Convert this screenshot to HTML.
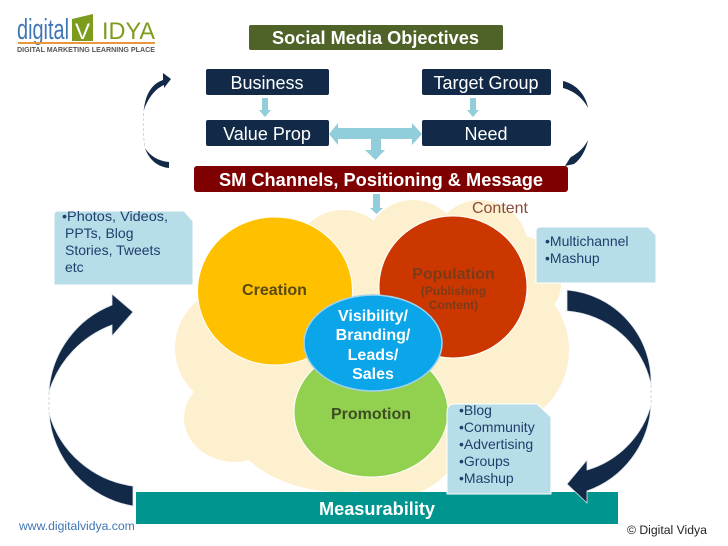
<!DOCTYPE html>
<html><head><meta charset="utf-8"><style>
html,body{margin:0;padding:0;background:#fff}
svg{display:block;font-family:"Liberation Sans",sans-serif}
</style></head><body>
<svg width="728" height="546" viewBox="0 0 728 546" xmlns="http://www.w3.org/2000/svg">
<rect width="728" height="546" fill="#fff"/>
<!-- logo -->
<text x="17" y="39" font-size="29" fill="#3f76b5" textLength="52" lengthAdjust="spacingAndGlyphs">digital</text>
<path d="M72 19L93 14V41H72Z" fill="#7d9c1e"/>
<text x="75" y="39" font-size="22" fill="#fff" textLength="15" lengthAdjust="spacingAndGlyphs">V</text>
<text x="102" y="39" font-size="24" fill="#7d9c1e" textLength="53" lengthAdjust="spacingAndGlyphs">IDYA</text>
<rect x="18" y="42" width="137" height="2" fill="#e8973a"/>
<text x="17" y="52" font-size="7" font-weight="bold" fill="#555" textLength="138" lengthAdjust="spacingAndGlyphs">DIGITAL MARKETING LEARNING PLACE</text>
<!-- title -->
<rect x="249" y="25" width="254" height="25" rx="2" fill="#4f6228"/>
<text x="272" y="44" font-size="18" font-weight="bold" fill="#fff" textLength="207" lengthAdjust="spacingAndGlyphs">Social Media Objectives</text>
<!-- navy boxes -->
<g fill="#122a47">
<rect x="206" y="69" width="123" height="26" rx="2"/>
<rect x="422" y="69" width="129" height="26" rx="2"/>
<rect x="206" y="120" width="123" height="26" rx="2"/>
<rect x="422" y="120" width="129" height="26" rx="2"/>
</g>
<g fill="#fff" font-size="18" text-anchor="middle">
<text x="267" y="89">Business</text>
<text x="486" y="89">Target Group</text>
<text x="267" y="140">Value Prop</text>
<text x="486" y="140">Need</text>
</g>
<!-- light arrows -->
<g fill="#92cddc">
<path d="M262 98H268V110H271L265 117L259 110H262Z"/>
<path d="M470 98H476V110H479L473 117L467 110H470Z"/>
<path d="M329 134L338 123V128H412V123L422 134L412 145V139H381V150H385L375.500 160L365 150H371V139H338V145Z"/>
</g>
<!-- red bar -->
<rect x="194" y="166" width="374" height="26" rx="3" fill="#7f0000"/>
<text x="219" y="186" font-size="18" font-weight="bold" fill="#fff" textLength="324" lengthAdjust="spacingAndGlyphs">SM Channels, Positioning &amp; Message</text>
<!-- cloud -->
<g fill="#fdf0cf">
<circle cx="343" cy="260" r="50"/>
<circle cx="413" cy="248" r="48"/>
<circle cx="480" cy="248" r="48"/>
<ellipse cx="510" cy="275" rx="51" ry="41"/>
<ellipse cx="520" cy="285" rx="41" ry="35"/>
<circle cx="236" cy="348" r="61"/>
<ellipse cx="235" cy="418" rx="51" ry="44"/>
<ellipse cx="340" cy="410" rx="115" ry="82"/>
<circle cx="490" cy="350" r="79"/>
<circle cx="390" cy="420" r="78"/>
<circle cx="370" cy="340" r="118"/>
<rect x="300" y="270" width="200" height="100"/>
</g>
<path d="M373 194H380V208H383L376.500 214L370 208H373Z" fill="#92cddc"/>
<text x="472" y="213" font-size="16" fill="#8c4a3c" textLength="56" lengthAdjust="spacingAndGlyphs">Content</text>
<!-- circles -->
<ellipse cx="275" cy="291" rx="77.500" ry="74" fill="#ffc000" stroke="#fff"/>
<ellipse cx="453" cy="287" rx="74" ry="71" fill="#cc3700" stroke="#fff"/>
<ellipse cx="371" cy="412" rx="77" ry="65" fill="#92d050" stroke="#fff"/>
<g font-weight="bold" text-anchor="middle">
<text x="274.500" y="295" font-size="16" fill="#5a4a10">Creation</text>
<text x="453.500" y="279" font-size="16" fill="#7b3b1a">Population</text>
<text x="453.500" y="295" font-size="12" fill="#7b3b1a">(Publishing</text>
<text x="453.500" y="309" font-size="12" fill="#7b3b1a">Content)</text>
<text x="371" y="419" font-size="16" fill="#3d4f22">Promotion</text>
</g>
<ellipse cx="373" cy="343" rx="69" ry="48" fill="#0ba5ea" stroke="#9fd3ee" stroke-width="1.500"/>
<g font-size="16" font-weight="bold" fill="#fff" text-anchor="middle">
<text x="373" y="321">Visibility/</text>
<text x="373" y="340">Branding/</text>
<text x="373" y="360">Leads/</text>
<text x="373" y="379">Sales</text>
</g>
<!-- teal bar -->
<rect x="136" y="492" width="482" height="32" fill="#00968f"/>
<text x="319" y="515" font-size="18" font-weight="bold" fill="#fff" textLength="116" lengthAdjust="spacingAndGlyphs">Measurability</text>
<!-- callouts -->
<g fill="#b7dde8" stroke="#fff" stroke-width="1">
<path d="M54 215Q54 211 58 211H184L193 221V285H54Z"/>
<path d="M536 231Q536 227 540 227H648L656 235V283H536Z"/>
<path d="M447 412Q447 404 455 404H537L551 417V494H447Z"/>
</g>
<g font-size="14" fill="#1f3f6d">
<text x="62" y="221" textLength="106" lengthAdjust="spacingAndGlyphs">•Photos, Videos,</text>
<text x="65" y="238">PPTs, Blog</text>
<text x="65" y="255">Stories, Tweets</text>
<text x="65" y="272">etc</text>
<text x="545" y="246">•Multichannel</text>
<text x="545" y="263">•Mashup</text>
<text x="459" y="415">•Blog</text>
<text x="459" y="432">•Community</text>
<text x="459" y="449">•Advertising</text>
<text x="459" y="466">•Groups</text>
<text x="459" y="483">•Mashup</text>
</g>
<!-- dashed outlines between arrow halves -->
<g fill="none" stroke="#bbb" stroke-width="0.600" stroke-dasharray="3 2">
<path d="M49 392V413"/>
<path d="M651 385V405"/>
<path d="M144 108Q142 128 145 148"/>
</g>
<!-- big arrows -->
<g fill="#122a47" stroke="#dfe4ea" stroke-width="0.800">
<path d="M49 390A100 100 0 0 1 112 305V294L133 312L112 336V325A104 104 0 0 0 49 392Z"/>
<path d="M49 413A101 101 0 0 0 133 506V486A101 101 0 0 1 49 413Z"/>
<path d="M567 290A92 92 0 0 1 651 385A93 93 0 0 0 567 311Z"/>
<path d="M651 405A96 96 0 0 1 587 491V503L567 484L587 460V470A94 94 0 0 0 651 405Z"/>
</g>
<g fill="#122a47">
<path d="M171 79L163 73L163 80C151 84 145 96 144 110C148 98 155 89 164 85L164 88Z"/>
<path d="M145 148C149 160 158 167 169 168V162C158 161 150 156 145 148Z"/>
<path d="M563 81C576 84 586 95 588 108C583 98 574 91 563 88Z"/>
<path d="M588 140C586 150 581 159 574 164L565 166L570 158L571 157C578 153 584 148 588 140Z"/>
</g>
<!-- footer -->
<text x="19" y="530" font-size="12.200" fill="#3f76b5">www.digitalvidya.com</text>
<text x="627" y="534" font-size="12.200" fill="#222">© Digital Vidya</text>
</svg>
</body></html>
